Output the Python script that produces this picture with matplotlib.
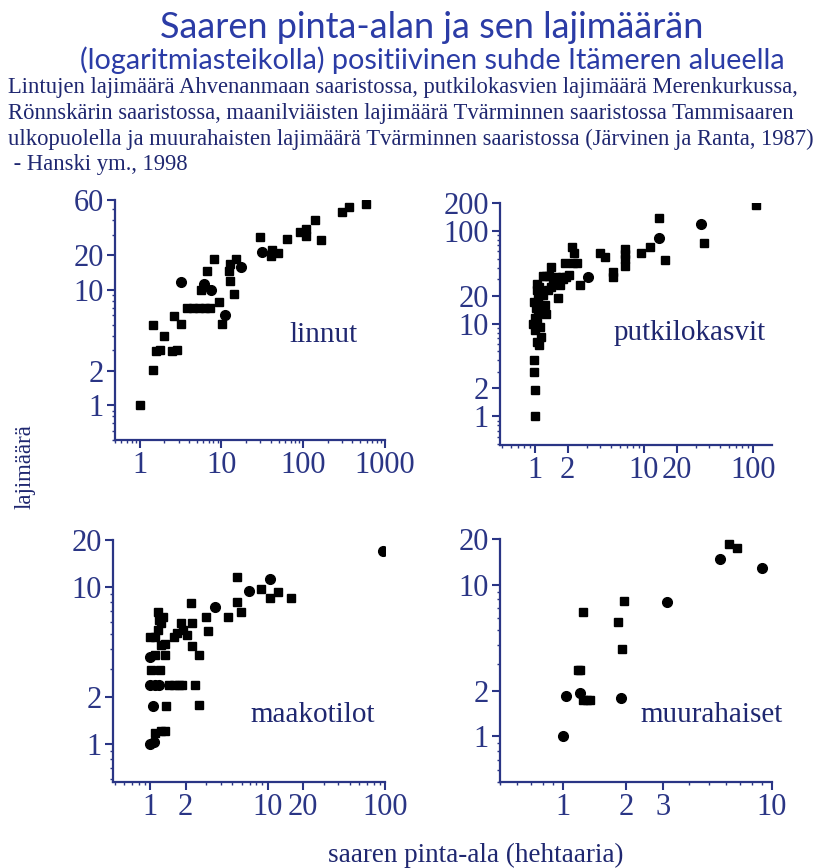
import numpy as np
import matplotlib.pyplot as plt
from matplotlib.ticker import FixedLocator, FixedFormatter, LogLocator, NullFormatter

plt.rcParams['font.family'] = ['Liberation Serif', 'DejaVu Serif']

W, H = 815, 868
title_blue = '#2b3ca6'
text_navy = '#1f2770'
axis_navy = '#2a3585'

# linnut (birds, Ahvenanmaa)
linnut_sq_x = [1, 1.46, 1.46, 1.57, 1.76, 1.97, 2.49, 2.89, 2.63, 3.24, 3.76, 4.45, 5.27, 6.25,
               7.19, 5.58, 6.74, 8.12, 9.35, 10.3, 12.4, 12.9, 12.9, 14.3, 15.0, 29.4, 40.1, 42.1,
               49.3, 63.5, 90.9, 107, 107, 141, 164, 294, 365, 584]
linnut_sq_y = [1, 2.03, 4.92, 2.95, 3.01, 3.97, 2.95, 3.0, 5.91, 5.02, 7, 7, 7, 7,
               7, 10, 14.5, 18.5, 7.9, 5.09, 14.5, 11.9, 16.8, 9.2, 18.5, 28.4, 19.8, 22.3,
               20.8, 27.7, 31.5, 33.4, 29.3, 40.2, 27.1, 47.3, 52.2, 55.7]
linnut_ci_x = [3.18, 6.12, 7.54, 11.0, 17.6, 31.4]
linnut_ci_y = [11.7, 11.2, 10, 6.0, 15.7, 21.1]

# putkilokasvit (vascular plants, Merenkurkku)
putki_sq_x = [1, 1.01, 0.98, 0.98, 1.10, 1.04, 1.13, 1.0, 1.11, 0.97, 1.04, 1.0, 1.07, 1.02,
              1.11, 1.23, 0.99, 1.07, 1.19, 1.04, 1.10, 1.05, 1.28, 1.64, 1.33, 1.42, 1.47, 1.35,
              1.19, 1.42, 1.28, 1.58, 1.76, 1.95, 1.58, 1.82, 1.69, 2.06, 1.88, 2.25, 2.45, 2.20,
              2.27, 2.59, 3.95, 4.45, 5.23, 5.2, 6.79, 6.79, 6.79, 6.79, 9.52, 11.4, 13.8, 15.6,
              35.5, 108]
putki_sq_y = [1, 1.94, 3.0, 4.0, 5.86, 6.36, 7.2, 8.5, 9.1, 10, 10.5, 11.4, 12.9, 14.6,
              15.8, 15.8, 17.2, 19.5, 20.3, 23, 25, 26.7, 12.7, 18.7, 23, 25, 28.3, 32.6,
              32.6, 41.1, 32.6, 32, 32, 32, 30, 30, 26.1, 33.4, 44.7, 45.5, 45.5, 67.7,
              57.4, 26.1, 58.3, 52.8, 36.3, 32.1, 63.4, 56, 49.4, 41.9, 57.4, 66.6, 137, 48.6,
              73.6, 191]
putki_ci_x = [3.09, 13.8, 33.3]
putki_ci_y = [31.6, 83.3, 118]

# maakotilot (land snails)
maako_sq_x = [1.10, 1.22, 1.34, 1.37, 2.59, 1.43, 1.58, 1.75, 1.87, 2.42, 1.02, 1.20, 1.10, 1.34,
              2.59, 1.0, 1.10, 1.22, 1.34, 1.16, 1.18, 1.28, 1.15, 1.22, 1.58, 1.81, 1.90, 2.06,
              1.69, 2.20, 2.27, 2.27, 2.99, 3.09, 4.61, 5.51, 5.51, 5.88, 8.71, 10.5, 12.3, 15.7]
maako_sq_y = [1.17, 1.2, 1.2, 1.75, 1.77, 2.38, 2.38, 2.38, 2.38, 2.38, 2.96, 2.96, 3.69, 3.69,
              3.69, 4.78, 4.82, 4.27, 4.33, 5.32, 6.17, 6.47, 6.96, 5.87, 4.78, 5.87, 5.32, 4.95,
              5.07, 7.94, 5.93, 4.21, 6.41, 5.25, 6.41, 11.6, 8.07, 6.96, 9.8, 8.47, 9.34, 8.47]
maako_ci_x = [1, 1.07, 1.05, 1.0, 1.10, 1.18, 1.0, 3.52, 6.92, 10.5, 95.5]
maako_ci_y = [1, 1.02, 1.73, 2.38, 2.38, 2.38, 3.56, 7.5, 9.43, 11.2, 17.0]

# muurahaiset (ants)
muura_sq_x = [1.25, 1.30, 1.34, 1.18, 1.21, 1.25, 1.83, 1.92, 1.97, 6.2, 6.8]
muura_sq_y = [1.74, 1.74, 1.74, 2.73, 2.73, 6.6, 5.64, 3.74, 7.82, 18.6, 17.5]
muura_ci_x = [1, 1.04, 1.21, 1.90, 3.14, 5.66, 9.0]
muura_ci_y = [1, 1.85, 1.92, 1.79, 7.63, 14.7, 12.9]

panels = [
    dict(name='linnut', box=(115, 385, 200, 440), xlim=(0.5, 1000), ylim=(0.5, 60),
         xt=[1, 10, 100, 1000], yt=[1, 2, 10, 20, 60], lab=(323, 335),
         sq=(linnut_sq_x, linnut_sq_y), ci=(linnut_ci_x, linnut_ci_y)),
    dict(name='putkilokasvit', box=(500, 772, 203, 445), xlim=(0.48, 150), ylim=(0.49, 200),
         xt=[1, 2, 10, 20, 100], yt=[1, 2, 10, 20, 100, 200], lab=(690, 333),
         sq=(putki_sq_x, putki_sq_y), ci=(putki_ci_x, putki_ci_y)),
    dict(name='maakotilot', box=(113, 385, 540, 782), xlim=(0.48, 100), ylim=(0.57, 20),
         xt=[1, 2, 10, 20, 100], yt=[1, 2, 10, 20], lab=(313, 715),
         sq=(maako_sq_x, maako_sq_y), ci=(maako_ci_x, maako_ci_y)),
    dict(name='muurahaiset', box=(500, 772, 539, 782), xlim=(0.5, 10), ylim=(0.5, 20),
         xt=[1, 2, 3, 10], yt=[1, 2, 10, 20], lab=(712, 715),
         sq=(muura_sq_x, muura_sq_y), ci=(muura_ci_x, muura_ci_y)),
]

fig = plt.figure(figsize=(W / 100, H / 100), dpi=100)


def fx(px):
    return px / W


def fy(py):
    return 1 - py / H


for p in panels:
    l, r, t, b = p['box']
    ax = fig.add_axes([fx(l), fy(b), (r - l) / W, (b - t) / H])
    ax.plot(*p['sq'], linestyle='none', marker='s', ms=6, color='black')
    ax.plot(*p['ci'], linestyle='none', marker='o', ms=7, color='black')
    ax.set_xscale('log')
    ax.set_yscale('log')
    ax.set_xlim(*p['xlim'])
    ax.set_ylim(*p['ylim'])
    for axis, ticks in ((ax.xaxis, p['xt']), (ax.yaxis, p['yt'])):
        axis.set_major_locator(FixedLocator(ticks))
        axis.set_major_formatter(FixedFormatter([str(v) for v in ticks]))
        axis.set_minor_locator(LogLocator(base=10, subs=np.arange(2, 10)))
        axis.set_minor_formatter(NullFormatter())
    for s in ('top', 'right'):
        ax.spines[s].set_visible(False)
    for s in ('left', 'bottom'):
        ax.spines[s].set_color(axis_navy)
        ax.spines[s].set_linewidth(1.6)
    ax.tick_params(which='major', direction='out', length=6, width=1.5, color=axis_navy,
                   labelcolor=axis_navy, labelsize=22, pad=2)
    ax.tick_params(which='minor', direction='out', length=2, width=1, color=axis_navy)
    fig.text(fx(p['lab'][0]), fy(p['lab'][1]), p['name'], ha='center', va='center',
             fontsize=21, color=text_navy)

fig.text(fx(432), fy(27), 'Saaren pinta-alan ja sen lajimäärän', ha='center', va='center',
         fontsize=26, color=title_blue, family='Lato')
fig.text(fx(432), fy(60), '(logaritmiasteikolla) positiivinen suhde Itämeren alueella',
         ha='center', va='center', fontsize=20.8, color=title_blue, family='Lato')

sub_lines = [
    'Lintujen lajimäärä Ahvenanmaan saaristossa, putkilokasvien lajimäärä Merenkurkussa,',
    'Rönnskärin saaristossa, maanilviäisten lajimäärä Tvärminnen saaristossa Tammisaaren',
    'ulkopuolella ja muurahaisten lajimäärä Tvärminnen saaristossa (Järvinen ja Ranta, 1987)',
    ' - Hanski ym., 1998',
]
for i, line in enumerate(sub_lines):
    fig.text(fx(8), fy(88 + 25.5 * i), line, ha='left', va='center', fontsize=16.3,
             color=text_navy)

fig.text(fx(25), fy(467), 'lajimäärä', rotation=90, ha='center', va='center', fontsize=16.5,
         color=text_navy)
fig.text(fx(476), fy(855), 'saaren pinta-ala (hehtaaria)', ha='center', va='center',
         fontsize=19.5, color=text_navy)

fig.savefig('out.png', dpi=100)
